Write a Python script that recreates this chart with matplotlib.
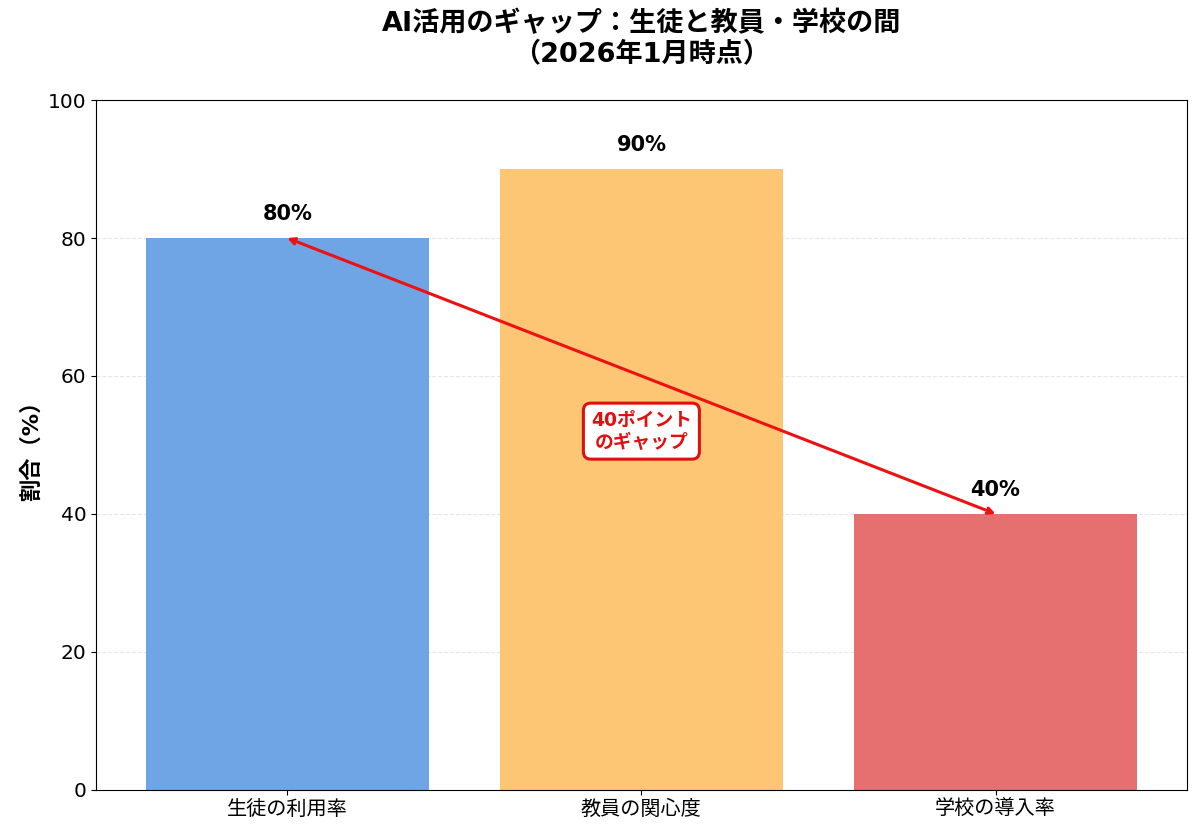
import matplotlib
matplotlib.use("Agg")
from matplotlib import pyplot as plt

plt.rcParams['font.family'] = ['DejaVu Sans', 'Noto Sans CJK JP']

# データ
categories = ["生徒の利用率", "教員の関心度", "学校の導入率"]
values = [80, 90, 40]
colors = ["#6FA5E5", "#FDC674", "#E67070"]

fig, ax = plt.subplots(figsize=(12, 8.34), dpi=100)
fig.subplots_adjust(left=0.08, right=0.989, top=0.88, bottom=0.053)

x = range(len(categories))
bars = ax.bar(x, values, width=0.8, color=colors)

for i, v in enumerate(values):
    ax.text(i, v + 2, f"{v}%", ha="center", va="bottom", fontsize=15, fontweight="bold")

# ギャップの矢印
ax.annotate("", xy=(0, values[0]), xytext=(2, values[2]),
            arrowprops=dict(arrowstyle="<->", color="#EE1111", lw=2.2, shrinkA=0, shrinkB=0))
ax.text(1, 52, "40ポイント\nのギャップ", ha="center", va="center", fontsize=13.5,
        fontweight="bold", color="#E01010", linespacing=1.2,
        bbox=dict(boxstyle="round,pad=0.4", fc="white", ec="#E01010", lw=2.2))

ax.set_xticks(list(x))
ax.set_xticklabels(categories, fontsize=14.5)
ax.set_ylim(0, 100)
ax.tick_params(axis="y", labelsize=14.5)
ax.set_ylabel("割合（%）", fontsize=16, fontweight="bold")
ax.set_title("AI活用のギャップ：生徒と教員・学校の間\n（2026年1月時点）",
             fontsize=19.5, fontweight="bold", pad=28, linespacing=1.2)
ax.yaxis.grid(True, linestyle="--", alpha=0.3)
ax.set_axisbelow(True)

plt.savefig("out.png", dpi=100)
